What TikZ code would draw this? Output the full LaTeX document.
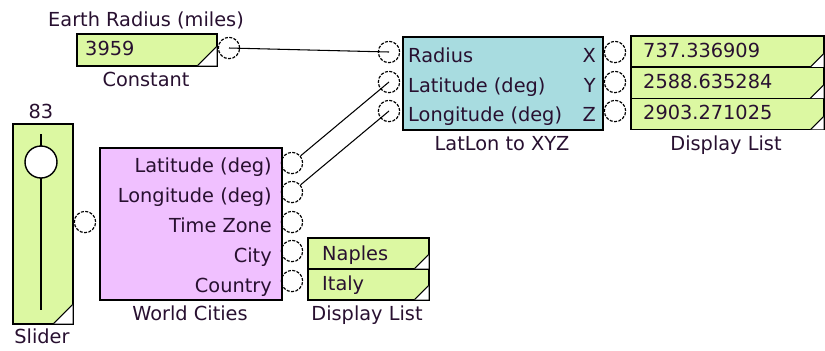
\documentclass[tikz,border=0pt]{standalone}
\usepackage{fontspec}
\setmainfont{DejaVu Sans}
\usetikzlibrary{positioning}

\definecolor{cellgreen}{RGB}{220,248,162}
\definecolor{calcblue}{RGB}{168,220,224}
\definecolor{citypink}{RGB}{240,192,255}
\definecolor{ink}{RGB}{40,16,48}

% white dog-ear in the lower right corner of a block
\newcommand{\dogear}[2]{%
  \fill[white] ([shift={(-1,-1)}]#1.south east) -- ++(-#2,0) -- ++(#2,-#2) -- cycle;
  \draw[line width=0.9pt] ([shift={(-1-#2,-1)}]#1.south east) -- ++(#2,-#2);}

\begin{document}
\begin{tikzpicture}[
    x=0.03cm, y=-0.03cm,
    every node/.style={font=\fontsize{16.5}{18}\selectfont, text=ink},
    block/.style={rectangle, draw, line width=1.3pt, inner sep=0pt, anchor=north west},
    port/.style={circle, draw, dash pattern=on 2.6pt off 1.2pt, line width=1pt, minimum size=0.64cm, inner sep=0pt},
    wire/.style={line width=0.9pt},
    caption/.style={anchor=base, inner sep=0pt},
    inlabel/.style={anchor=base west, inner sep=0pt},
    outlabel/.style={anchor=base east, inner sep=0pt}
]
\useasboundingbox (0,0) rectangle (825,350);

% Constant block
\node[caption] (rtitle) at (146,26) {Earth Radius (miles)};
\node[block, fill=cellgreen, minimum width=4.2cm, minimum height=0.96cm] (const) at (76,33) {};
\dogear{const}{19}
\node[inlabel] (cval) at (85,55) {3959};
\node[caption] (cname) at (146,86) {Constant};
\node[port] (cout) at (229,48) {};

% LatLon to XYZ block
\node[block, fill=calcblue, minimum width=6cm, minimum height=2.79cm] (conv) at (402,36) {};
\node[inlabel] (trad) at (408,62) {Radius};
\node[inlabel] (tlat) at (408,92) {Latitude (deg)};
\node[inlabel] (tlon) at (408,121) {Longitude (deg)};
\node[outlabel] (tx) at (596,62) {X};
\node[outlabel] (ty) at (596,92) {Y};
\node[outlabel] (tz) at (596,121) {Z};
\node[caption] (convname) at (502,150) {LatLon to XYZ};
\node[port] (inrad) at (389,52) {};
\node[port] (inlat) at (389,82) {};
\node[port] (inlon) at (389,111) {};
\node[port] (outx) at (615,52) {};
\node[port] (outy) at (615,82) {};
\node[port] (outz) at (615,111) {};

% Display list for X, Y, Z
\node[block, fill=cellgreen, minimum width=5.79cm, minimum height=0.94cm] (dx) at (630,35) {};
\node[block, fill=cellgreen, minimum width=5.79cm, minimum height=0.94cm] (dy) at (630,66.3) {};
\node[block, fill=cellgreen, minimum width=5.79cm, minimum height=0.94cm] (dz) at (630,97.6) {};
\dogear{dx}{13}
\dogear{dy}{13}
\dogear{dz}{13}
\node[inlabel] (vx) at (643,57) {737.336909};
\node[inlabel] (vy) at (643,88) {2588.635284};
\node[inlabel] (vz) at (643,119) {2903.271025};
\node[caption] (dxyzname) at (726,150) {Display List};

% Slider
\node[caption] (sval) at (41,118) {83};
\node[block, fill=cellgreen, minimum width=1.8cm, minimum height=6cm] (slider) at (12,123) {};
\dogear{slider}{19}
\coordinate (ttop) at (41,134);
\coordinate (tbot) at (41,310);
\draw[line width=1.3pt] (ttop) -- (tbot);
\node[circle, draw, fill=white, line width=1.2pt, minimum size=0.96cm, inner sep=0pt] (knob) at (41,162) {};
\node[caption] (sname) at (42,343) {Slider};
\node[port] (sout) at (85,222) {};

% World Cities block
\node[block, fill=citypink, minimum width=5.46cm, minimum height=4.56cm] (cities) at (99,147) {};
\node[outlabel] (wlattext) at (272,172) {Latitude (deg)};
\node[outlabel] (wlontext) at (272,202) {Longitude (deg)};
\node[outlabel] (wtztext) at (272,232) {Time Zone};
\node[outlabel] (wcitytext) at (272,262) {City};
\node[outlabel] (wcntext) at (272,292) {Country};
\node[caption] (citiesname) at (190,320) {World Cities};
\node[port] (wlat) at (292,163) {};
\node[port] (wlon) at (292,192) {};
\node[port] (wtz) at (292,222) {};
\node[port] (wcity) at (292,251) {};
\node[port] (wcn) at (292,281) {};

% Display list for city and country
\node[block, fill=cellgreen, minimum width=3.63cm, minimum height=0.93cm] (dcity) at (307,237) {};
\node[block, fill=cellgreen, minimum width=3.63cm, minimum height=0.93cm] (dcn) at (307,268) {};
\dogear{dcity}{14}
\dogear{dcn}{14}
\node[inlabel] (vcity) at (322,260) {Naples};
\node[inlabel] (vcn) at (322,290) {Italy};
\node[caption] (dcname) at (367,320) {Display List};

% Wires
\draw[wire] (cout.center) -- (inrad.center);
\draw[wire] (wlat) -- (inlat.center);
\draw[wire] (wlon) -- (inlon.center);

\end{tikzpicture}
\end{document}
